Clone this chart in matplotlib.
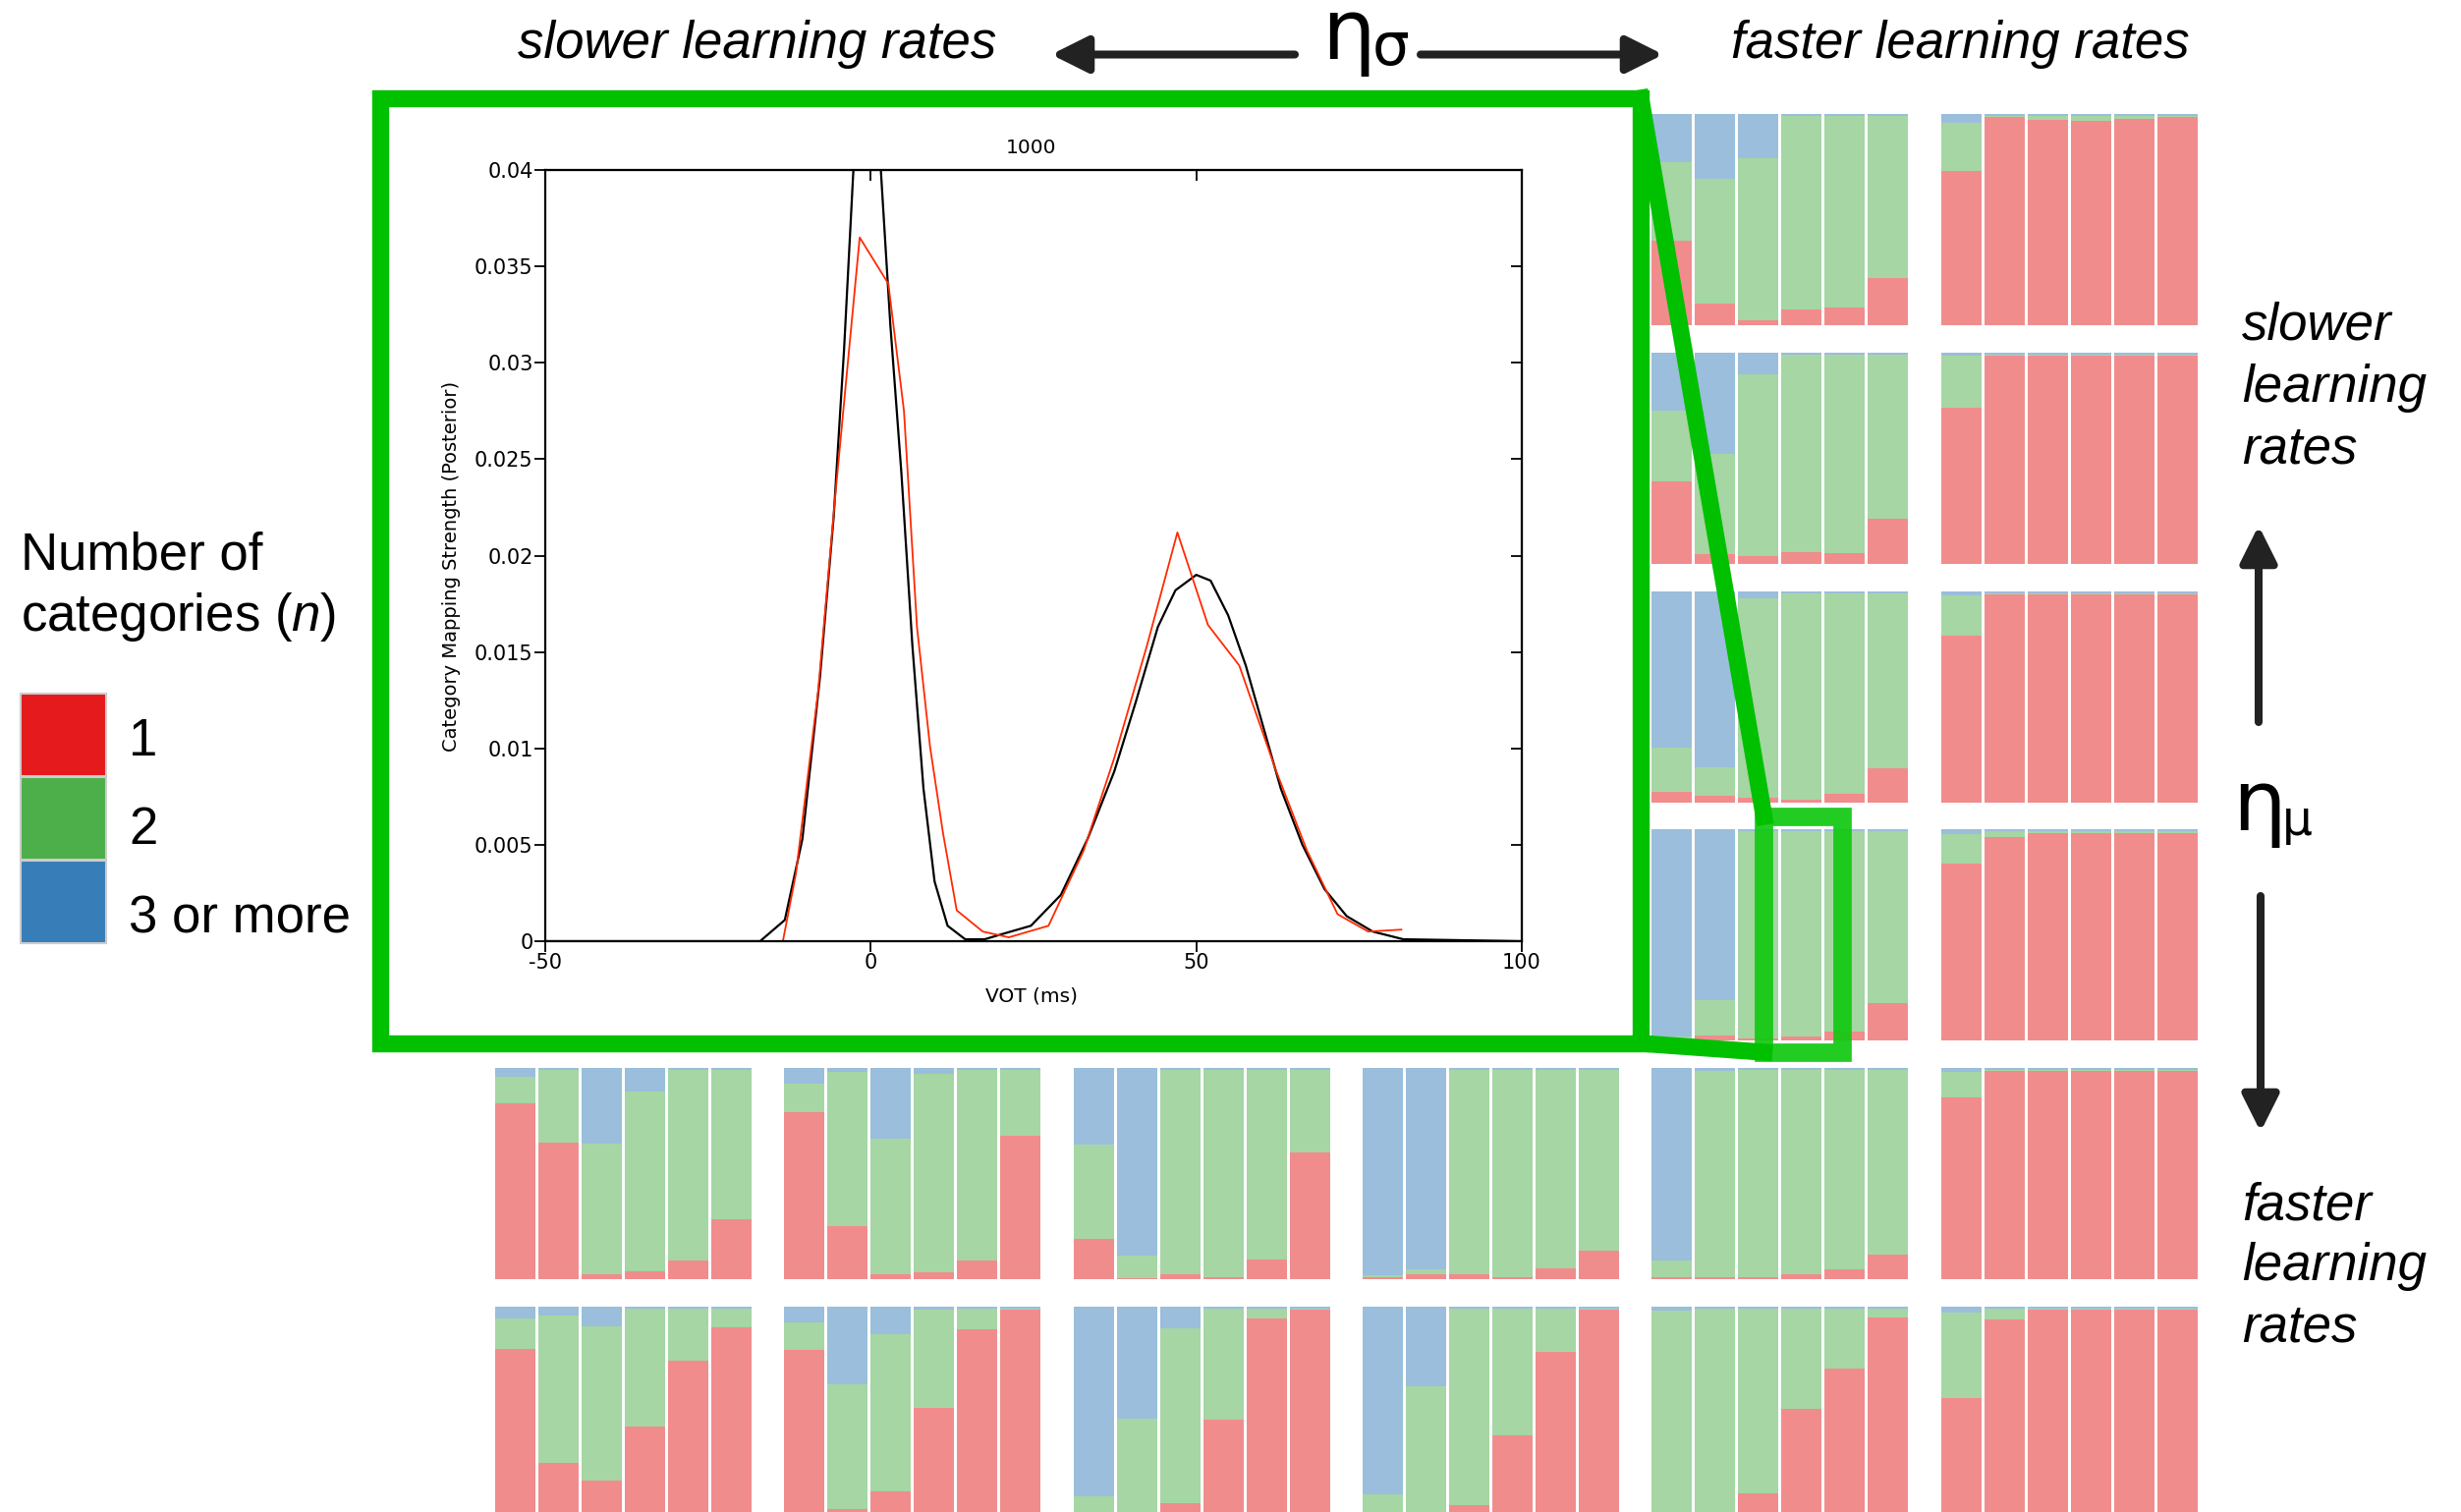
import numpy as np
import matplotlib.pyplot as plt
from matplotlib.patches import Rectangle
from matplotlib.lines import Line2D

plt.rcParams['font.family'] = ['Liberation Sans', 'DejaVu Sans']
plt.rcParams['mathtext.fontset'] = 'custom'
plt.rcParams['mathtext.rm'] = 'Liberation Sans'
plt.rcParams['mathtext.it'] = 'Liberation Sans:italic'
plt.rcParams['axes.unicode_minus'] = False

W, H = 2505, 1539

# share of simulations ending with 1 category (red) and 2 categories (green);
# whatever is left is "3 or more" (blue).
# rows: eta_mu slow -> fast, columns: eta_sigma slow -> fast.
# None = panel hidden under the zoomed inset
one_r0 = [None, None, None, None,
          [0.40, 0.10, 0.02, 0.07, 0.08, 0.22], [0.73, 0.985, 0.97, 0.967, 0.977, 0.985]]
two_r0 = [None, None, None, None,
          [0.37, 0.59, 0.77, 0.92, 0.91, 0.77], [0.23, 0.006, 0.02, 0.025, 0.015, 0.006]]
one_r1 = [None, None, None, None,
          [0.39, 0.045, 0.037, 0.055, 0.05, 0.21], [0.74, 0.986, 0.986, 0.986, 0.986, 0.986]]
two_r1 = [None, None, None, None,
          [0.335, 0.475, 0.86, 0.935, 0.94, 0.78], [0.245, 0.005, 0.005, 0.005, 0.005, 0.005]]
one_r2 = [None, None, None, None,
          [0.05, 0.031, 0.022, 0.012, 0.04, 0.162], [0.79, 0.986, 0.986, 0.986, 0.986, 0.986]]
two_r2 = [None, None, None, None,
          [0.21, 0.136, 0.945, 0.98, 0.952, 0.83], [0.19, 0.005, 0.005, 0.005, 0.005, 0.005]]
one_r3 = [None, None, None, None,
          [0.005, 0.019, 0.005, 0.014, 0.04, 0.175], [0.837, 0.963, 0.981, 0.981, 0.981, 0.981]]
two_r3 = [None, None, None, None,
          [0.01, 0.17, 0.987, 0.978, 0.952, 0.817], [0.14, 0.028, 0.01, 0.01, 0.01, 0.01]]
one_r4 = [[0.832, 0.645, 0.023, 0.037, 0.084, 0.28],
          [0.79, 0.248, 0.019, 0.028, 0.084, 0.68],
          [0.187, 0.004, 0.019, 0.009, 0.089, 0.6],
          [0.009, 0.019, 0.019, 0.009, 0.051, 0.135],
          [0.009, 0.009, 0.009, 0.019, 0.042, 0.116],
          [0.86, 0.986, 0.986, 0.986, 0.986, 0.986]]
two_r4 = [[0.126, 0.346, 0.62, 0.85, 0.907, 0.71],
          [0.135, 0.734, 0.645, 0.945, 0.907, 0.31],
          [0.45, 0.107, 0.972, 0.982, 0.902, 0.39],
          [0.009, 0.023, 0.972, 0.982, 0.94, 0.856],
          [0.079, 0.977, 0.982, 0.972, 0.949, 0.875],
          [0.121, 0.005, 0.005, 0.005, 0.005, 0.005]]
one_r5 = [[0.794, 0.239, 0.153, 0.416, 0.737, 0.9],
          [0.79, 0.014, 0.1, 0.507, 0.89, 0.986],
          [0.0, 0.0, 0.043, 0.45, 0.943, 0.986],
          [0.0, 0.0, 0.033, 0.373, 0.78, 0.986],
          [0.0, 0.0, 0.091, 0.502, 0.699, 0.947],
          [0.555, 0.938, 0.986, 0.986, 0.986, 0.986]]
two_r5 = [[0.148, 0.718, 0.751, 0.574, 0.254, 0.091],
          [0.134, 0.608, 0.766, 0.478, 0.1, 0.005],
          [0.077, 0.455, 0.852, 0.54, 0.048, 0.005],
          [0.086, 0.612, 0.957, 0.617, 0.21, 0.005],
          [0.981, 0.99, 0.9, 0.488, 0.292, 0.043],
          [0.416, 0.053, 0.005, 0.005, 0.005, 0.005]]

one_rows = [one_r0, one_r1, one_r2, one_r3, one_r4, one_r5]
two_rows = [two_r0, two_r1, two_r2, two_r3, two_r4, two_r5]

# inset: learned category mapping vs. input distribution (VOT)
vot_input = [-50, -17, -13.2, -10.5, -7.8, -5.7, -4.1, -2.7, -1.5, -0.5, 0.5, 1.6, 3.0, 4.7, 6.4,
             8.1, 9.8, 11.8, 14.5, 17.5, 20.5, 24.6, 29.2, 33.3, 37.4, 40.7, 44.1, 46.8, 50,
             52.2, 54.9, 57.6, 60.3, 63.0, 66.3, 69.7, 73.1, 77.1, 81.8, 100]
p_input = [0, 0, 0.0011, 0.0053, 0.0137, 0.022, 0.0307, 0.0398, 0.046, 0.047, 0.046, 0.0397,
           0.032, 0.0243, 0.0153, 0.0079, 0.0031, 0.0008, 0.0001, 0.0001, 0.0004, 0.0008,
           0.0024, 0.0053, 0.0088, 0.0124, 0.0163, 0.0182, 0.019, 0.0187, 0.0169, 0.0143,
           0.0111, 0.0079, 0.005, 0.0027, 0.0013, 0.0005, 0.0001, 0]
vot_model = [-13.5, -11.5, -8.1, -5.4, -1.7, 2.7, 5.1, 7.1, 9.1, 11.1, 13.2, 17.2, 21.2, 27.3,
             32.7, 37.4, 42.4, 47.1, 51.8, 56.6, 62.3, 67.0, 71.7, 76.4, 81.5]
p_model = [0.0, 0.0035, 0.0129, 0.0233, 0.0365, 0.0341, 0.0275, 0.0163, 0.0101, 0.0056, 0.0016,
           0.0005, 0.0002, 0.0008, 0.0047, 0.0095, 0.0153, 0.0212, 0.0164, 0.0143, 0.0088,
           0.0047, 0.0014, 0.0005, 0.0006]
y_ticks = [0, 0.005, 0.01, 0.015, 0.02, 0.025, 0.03, 0.035, 0.04]
y_ticklabels = ['0', '0.005', '0.01', '0.015', '0.02', '0.025', '0.03', '0.035', '0.04']
x_ticks = [-50, 0, 50, 100]

legend_labels = ['1', '2', '3 or more']

C_ONE, C_TWO, C_MORE = '#e41a1c', '#4daf4a', '#377eb8'
GREEN = '#00c000'

# layout in pixels
col_left = [504, 798, 1093, 1387, 1681, 1976]
row_top = [116, 359, 602, 844, 1087, 1330]
row_h = [214.5, 214.5, 214.5, 214.5, 214.5, 209]
panel_w = 261

fig = plt.figure(figsize=(W / 100, H / 100), dpi=100)


def px_axes(x0, y0, x1, y1, **kw):
    return fig.add_axes([x0 / W, 1 - y1 / H, (x1 - x0) / W, (y1 - y0) / H], **kw)


# small stacked bar panels
x = np.arange(6)
for r in range(6):
    for c in range(6):
        one = one_rows[r][c]
        if one is None:
            continue
        one = np.array(one)
        two = np.array(two_rows[r][c])
        more = np.clip(1 - one - two, 0, None)
        ax = px_axes(col_left[c], row_top[r], col_left[c] + panel_w, row_top[r] + row_h[r])
        ax.bar(x, one, 0.92, color=C_ONE, alpha=0.5, lw=0)
        ax.bar(x, two, 0.92, bottom=one, color=C_TWO, alpha=0.5, lw=0)
        ax.bar(x, more, 0.92, bottom=one + two, color=C_MORE, alpha=0.5, lw=0)
        ax.set_xlim(-0.46, 5.46)
        ax.set_ylim(0, 1)
        ax.axis('off')

# zoomed inset
ax_in = px_axes(555, 173, 1549, 958, zorder=3)
ax_in.plot(vot_input, p_input, color='black', lw=1.6)
ax_in.plot(vot_model, p_model, color='#ff2a00', lw=1.3)
ax_in.set_xlim(-50, 100)
ax_in.set_ylim(0, 0.04)
ax_in.set_xticks(x_ticks)
ax_in.set_yticks(y_ticks)
ax_in.set_yticklabels(y_ticklabels)
ax_in.tick_params(direction='out', length=8, width=1.3, labelsize=15, pad=1)
for lab in ax_in.get_xticklabels() + ax_in.get_yticklabels():
    lab.set_family('DejaVu Sans')
for s in ax_in.spines.values():
    s.set_linewidth(1.6)
sec_y = ax_in.secondary_yaxis('right')
sec_y.set_yticks(y_ticks)
sec_y.tick_params(direction='in', length=8, width=1.3, labelright=False)
sec_x = ax_in.secondary_xaxis('top')
sec_x.set_xticks(x_ticks)
sec_x.tick_params(direction='in', length=8, width=1.3, labeltop=False)

# overlay for frame, connectors, labels
ov = fig.add_axes([0, 0, 1, 1], zorder=5)
ov.set_xlim(0, W)
ov.set_ylim(H, 0)
ov.axis('off')
ov.patch.set_visible(False)

ov.text(1050, 150, '1000', fontsize=14.5, ha='center', va='center', family='DejaVu Sans')
ov.text(1050, 1014, 'VOT (ms)', fontsize=14.5, ha='center', va='center', family='DejaVu Sans')
ov.text(460, 576, 'Category Mapping Strength (Posterior)', fontsize=14, rotation=90,
        ha='center', va='center', family='DejaVu Sans')

ov.add_patch(Rectangle((387, 100), 1670 - 387, 1062 - 100, fill=False, edgecolor=GREEN,
                       lw=12.5, joinstyle='miter'))
ov.add_line(Line2D([1670, 1795.5], [100, 831], color=GREEN, lw=12.5))
ov.add_line(Line2D([1670, 1795.5], [1062, 1071], color=GREEN, lw=12.5))
ov.add_patch(Rectangle((1795.5, 831), 80, 240, fill=False, edgecolor='#10c810', alpha=0.92,
                       lw=13.5, joinstyle='miter'))

# legend
ov.text(21, 579, 'Number of', fontsize=38, va='baseline')
ov.text(21, 642, 'categories ($n$)', fontsize=38, va='baseline')
for i, (col, lab) in enumerate(zip([C_ONE, C_TWO, C_MORE], legend_labels)):
    y0 = 706 + i * 85
    ov.add_patch(Rectangle((21, y0), 87, 84, facecolor=col, edgecolor='#cccccc', lw=1.5))
    ov.text(131, 769 + i * 90, lab, fontsize=38, va='baseline')

# axis annotations
arrow_kw = dict(arrowstyle='-|>,head_length=0.9,head_width=0.45', color='#222222', lw=5.8,
                mutation_scale=25, shrinkA=0, shrinkB=0)
ov.text(527, 59, 'slower learning rates', fontsize=38, style='italic', va='baseline')
ov.text(2229, 59, 'faster learning rates', fontsize=38, style='italic', va='baseline', ha='right')
ov.annotate('', xy=(1070, 55.5), xytext=(1318, 55.5), arrowprops=arrow_kw)
ov.annotate('', xy=(1693, 55.5), xytext=(1446, 55.5), arrowprops=arrow_kw)
ov.text(1345, 60, 'η', fontsize=62, family='DejaVu Sans', va='baseline')
ov.text(1397, 66, 'σ', fontsize=43, family='DejaVu Sans', va='baseline')

for i, word in enumerate(['slower', 'learning', 'rates']):
    ov.text(2282, 346 + i * 62.5, word, fontsize=38, style='italic', va='baseline')
for i, word in enumerate(['faster', 'learning', 'rates']):
    ov.text(2282, 1241 + i * 62.5, word, fontsize=38, style='italic', va='baseline')
ov.annotate('', xy=(2299, 535), xytext=(2299, 735), arrowprops=arrow_kw)
ov.annotate('', xy=(2301, 1152), xytext=(2301, 912), arrowprops=arrow_kw)
ov.text(2272, 845, 'η', fontsize=62, family='DejaVu Sans', va='baseline')
ov.text(2323, 850, 'μ', fontsize=35, family='DejaVu Sans', va='baseline')

fig.savefig('out.png', dpi=100)
